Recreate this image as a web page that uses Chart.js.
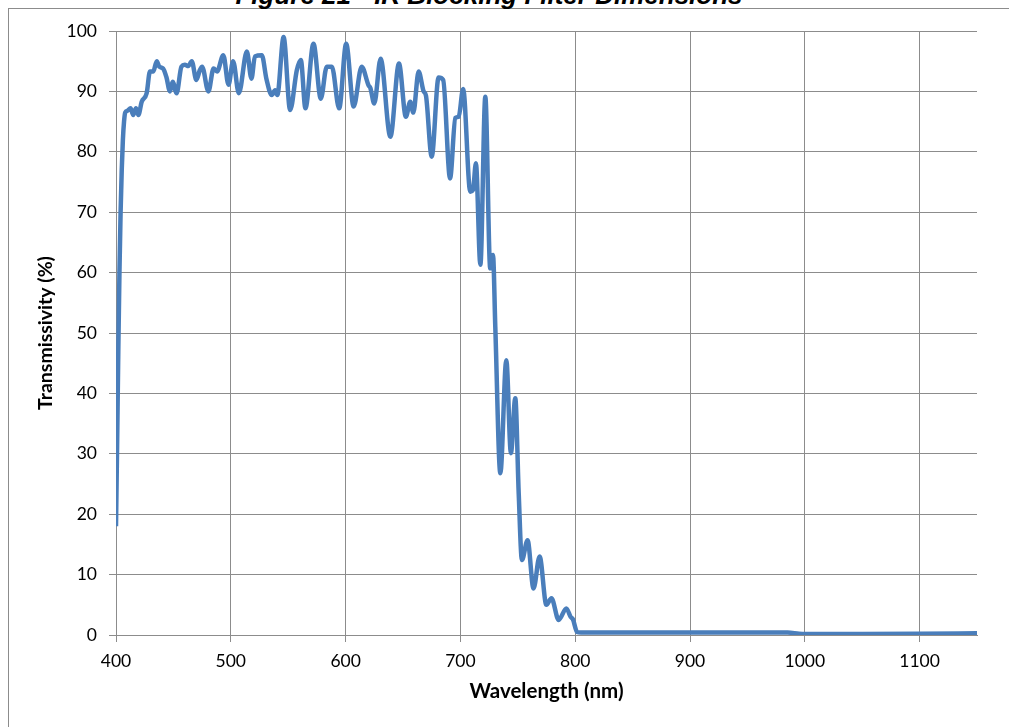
<!DOCTYPE html>
<html>
<head>
<meta charset="utf-8">
<script src="https://cdn.jsdelivr.net/npm/chart.js@4.4.1/dist/chart.umd.min.js"></script>
<style>
  html, body { margin: 0; padding: 0; background: #fff; overflow: hidden; }
  #frame { position: absolute; left: 8px; top: 8px; width: 1100px; height: 800px; border: 1px solid #8c8c8c; box-sizing: border-box; }
  #figTitle { position: absolute; left: 189px; top: -18px; width: 600px; text-align: center; font: italic bold 26px "Liberation Sans", Arial, sans-serif; line-height: 26px; white-space: nowrap; }
  #wrap { position: absolute; left: 0; top: 0; width: 1009px; height: 727px; }
</style>
</head>
<body>
<div id="frame"></div>
<div id="figTitle">Figure 21 - IR Blocking Filter Dimensions</div>
<div id="wrap"><canvas id="irChart" width="1009" height="727"></canvas></div>
<script>
// 파장 (nm)
const wavelengths = [
  400, 401, 402, 403, 404, 405, 406, 407, 408, 410,
  412.7, 415, 417.4, 419.5, 422.4, 426.7, 429.6, 432.5, 435.5, 437.7,
  441, 444, 447, 449.3, 452.8, 457, 460, 463, 466, 470,
  473, 475, 480.5, 485, 488, 493.5, 498, 502, 507, 514,
  518, 521, 527, 531, 535.7, 538.6, 540.5, 546, 551.7, 557.5,
  561, 565, 572, 578.4, 583.6, 588, 594.4, 600.5, 607, 614,
  620, 621.5, 625, 630.5, 639, 646.5, 652.5, 656.3, 659, 663.6,
  668, 670, 675, 681, 685, 691, 695.6, 698.5, 702.4, 708.6,
  711, 713.5, 717.4, 721.7, 726, 728.4, 730.4, 734.8, 740, 744,
  747.8, 750.8, 753.6, 758.5, 763.7, 769, 774.9, 779.3, 785.6, 792.3,
  796, 798, 801.6, 805, 850, 900, 950, 985, 995, 1000,
  1050, 1100, 1150
];

// 투과율 (%)
const transmissivity = [
  18, 32, 47, 60, 70, 77, 82, 85, 86.5, 86.8,
  87.2, 86.1, 87.2, 86.1, 88.3, 89.7, 93.3, 93.3, 95.0, 94.1,
  93.8, 92.3, 90.0, 91.6, 89.7, 94.1, 94.4, 94.2, 95.0, 91.9,
  93.5, 94.1, 90.0, 93.8, 93.3, 96.0, 91.1, 95.0, 89.7, 96.6,
  92.1, 95.8, 96.0, 92.1, 89.4, 90.2, 89.4, 99.0, 86.9, 93.5,
  95.2, 87.2, 97.9, 88.8, 94.1, 94.1, 87.2, 97.9, 87.5, 94.1,
  91.0, 90.6, 88.0, 95.4, 82.5, 94.6, 85.8, 88.3, 86.5, 93.3,
  90.0, 89.3, 79.2, 92.3, 91.9, 75.6, 85.6, 85.8, 90.4, 73.4,
  73.7, 78.1, 61.3, 89.1, 60.7, 62.9, 51.0, 26.8, 45.5, 30.1,
  39.2, 23.4, 12.4, 15.7, 7.7, 13.0, 5.0, 6.1, 2.5, 4.4,
  3.0, 2.6, 0.5, 0.4, 0.4, 0.4, 0.4, 0.4, 0.2, 0.15,
  0.15, 0.2, 0.3
];

// 축 눈금
const xTickValues = [400, 500, 600, 700, 800, 900, 1000, 1100];
const yTickValues = [0, 10, 20, 30, 40, 50, 60, 70, 80, 90, 100];

const points = wavelengths.map((w, i) => ({ x: w, y: transmissivity[i] }));

const gridColor = '#8c8c8c';
const tickFont = { family: 'Lato', size: 17.5 };

new Chart(document.getElementById('irChart').getContext('2d'), {
  type: 'line',
  data: {
    datasets: [{
      data: points,
      borderColor: '#4a7ebb',
      borderWidth: 4.5,
      pointRadius: 0,
      fill: false,
      cubicInterpolationMode: 'monotone'
    }]
  },
  options: {
    responsive: false,
    animation: false,
    devicePixelRatio: 1,
    layout: { padding: { left: 28, right: 32, top: 31, bottom: 20 } },
    plugins: {
      legend: { display: false },
      tooltip: { enabled: false }
    },
    scales: {
      x: {
        type: 'linear',
        min: 400,
        max: 1150,
        afterBuildTicks: axis => { axis.ticks = xTickValues.map(v => ({ value: v })); },
        afterFit: axis => { axis.height = 72; },
        grid: { color: gridColor, lineWidth: 1, tickLength: 7 },
        border: { color: gridColor },
        ticks: { color: '#000', font: tickFont, padding: 9, maxRotation: 0, callback: v => String(v) },
        title: { display: true, text: 'Wavelength (nm)', color: '#000', font: { family: 'Lato', size: 20.5, weight: 'bold' }, padding: { top: 0, bottom: 3 } }
      },
      y: {
        min: 0,
        max: 100,
        afterBuildTicks: axis => { axis.ticks = yTickValues.map(v => ({ value: v })); },
        afterFit: axis => { axis.width = 88; },
        grid: { color: gridColor, lineWidth: 1, tickLength: 7 },
        border: { color: gridColor },
        ticks: { color: '#000', font: tickFont, padding: 12, callback: v => String(v) },
        title: { display: true, text: 'Transmissivity (%)', color: '#000', font: { family: 'Lato', size: 19.5, weight: 'bold' }, padding: { top: 6, bottom: 0 } }
      }
    }
  }
});
</script>
</body>
</html>
